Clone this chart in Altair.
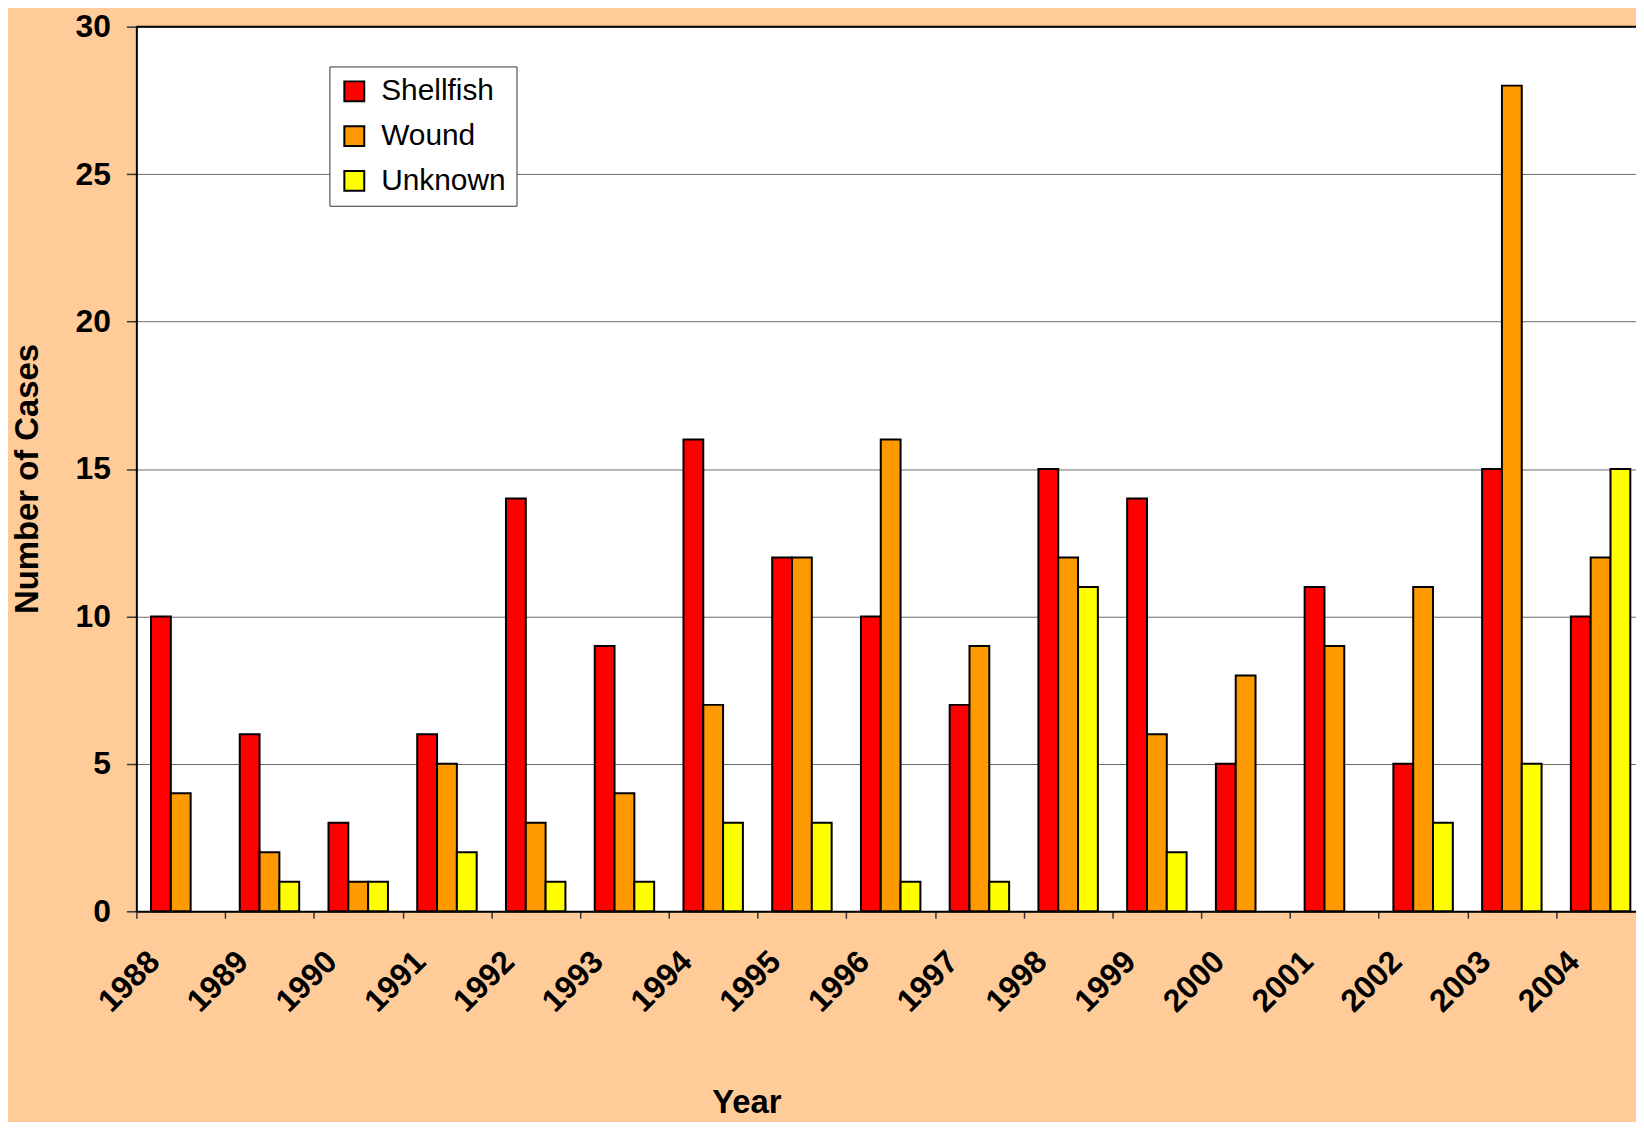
import altair as alt
import pandas as pd

years = ["1988", "1989", "1990", "1991", "1992", "1993", "1994", "1995", "1996",
         "1997", "1998", "1999", "2000", "2001", "2002", "2003", "2004"]
shellfish = [10, 6, 3, 6, 14, 9, 16, 12, 10, 7, 15, 14, 5, 11, 5, 15, 10]
wound = [4, 2, 1, 5, 3, 4, 7, 12, 16, 9, 12, 6, 8, 9, 11, 28, 12]
unknown = [0, 1, 1, 2, 1, 1, 3, 3, 1, 1, 11, 2, 0, 0, 3, 5, 15]
series = ["Shellfish", "Wound", "Unknown"]
colors = ["#FF0000", "#FF9900", "#FFFF00"]
y_ticks = [0, 5, 10, 15, 20, 25, 30]

rows = []
for i, yr in enumerate(years):
    for s, vals in zip(series, [shellfish, wound, unknown]):
        if vals[i] > 0:
            rows.append({"Year": yr, "Type": s, "Cases": vals[i]})
df = pd.DataFrame(rows)

FONT = "Liberation Sans"
W, H = 1516, 889
STEP = W / len(years)
P_IN, P_OUT = 0.33, 0.165

bars = alt.Chart(df).mark_bar(stroke="black", strokeWidth=2).encode(
    x=alt.X(
        "Year:N",
        sort=years,
        scale=alt.Scale(domain=years, paddingInner=P_IN, paddingOuter=P_OUT),
        axis=alt.Axis(
            title="Year",
            titleFont=FONT, titleFontSize=33, titleFontWeight="bold", titleColor="black",
            titleX=613, titleY=202, titleAlign="center", titleBaseline="alphabetic",
            labelFont=FONT, labelFontSize=32, labelFontWeight="bold", labelColor="black",
            labelAngle=-45, labelAlign="right", labelBaseline="middle",
            tickBand="center", tickOffset=-STEP / 2, labelOffset=-27 + STEP / 2, labelPadding=38,
            ticks=True, tickSize=7, tickColor="#333333", tickWidth=1.5,
            domainColor="black", domainWidth=2, grid=False,
        ),
    ),
    xOffset=alt.XOffset("Type:N", sort=series,
                        scale=alt.Scale(domain=series, paddingInner=0, paddingOuter=0)),
    y=alt.Y(
        "Cases:Q",
        scale=alt.Scale(domain=[0, 30]),
        axis=alt.Axis(
            title="Number of Cases",
            titleFont=FONT, titleFontSize=33, titleFontWeight="bold", titleColor="black",
            titleAngle=270, titleX=-99, titleY=454, titleAlign="center", titleBaseline="alphabetic",
            values=y_ticks,
            labelFont=FONT, labelFontSize=32, labelFontWeight="bold", labelColor="black",
            labelPadding=16, tickSize=10, tickColor="#333333", tickWidth=1.5,
            domainColor="black", domainWidth=2,
            grid=True, gridColor="#6a6a6a", gridWidth=1,
        ),
    ),
    color=alt.Color(
        "Type:N",
        sort=series,
        scale=alt.Scale(domain=series, range=colors),
        legend=alt.Legend(
            title=None, orient="none", legendX=194, legendY=40,
            fillColor="white", strokeColor="#333333", padding=10,
            symbolType="square", symbolSize=400, symbolStrokeColor="black", symbolStrokeWidth=2,
            labelFont=FONT, labelFontSize=30, labelColor="black", labelOffset=12,
            rowPadding=15,
        ),
    ),
)

top_border = alt.Chart(pd.DataFrame({"top": [30]})).mark_rule(color="black", strokeWidth=2).encode(
    y=alt.Y("top:Q")
)

chart = alt.layer(bars, top_border).properties(
    width=W, height=H,
    autosize=alt.AutoSizeParams(type="none"),
    padding={"left": 129, "top": 16, "right": -9, "bottom": 209},
    background="#FFCC99",
).configure_view(fill="white", stroke=None)

chart.save("out.html", embed_options={"renderer": "svg", "actions": False})
